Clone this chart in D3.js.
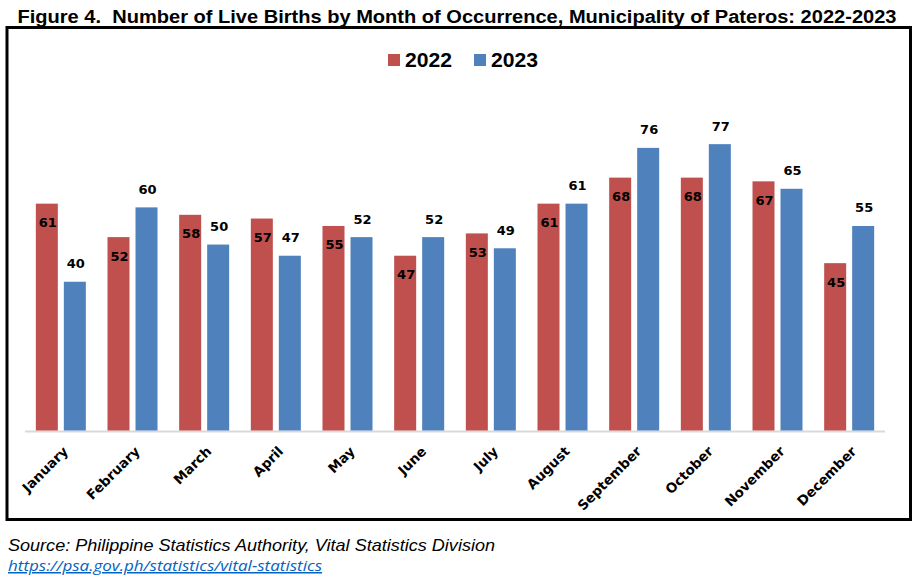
<!DOCTYPE html>
<html><head><meta charset="utf-8">
<script src="https://cdn.jsdelivr.net/npm/d3@7"></script>
<style>html,body{margin:0;padding:0;background:#fff;}svg{display:block;}</style>
</head><body>
<svg id="chart" width="918" height="581"></svg>
<script>
const months = ["January","February","March","April","May","June","July","August","September","October","November","December"];
const values2022 = [61,52,58,57,55,47,53,61,68,68,67,45];
const values2023 = [40,60,50,47,52,52,49,61,76,77,65,55];
const seriesNames = ["2022","2023"];
const colors = ["#C0504D","#4F81BD"];

const svg = d3.select("#chart");
svg.append("rect").attr("width",918).attr("height",581).attr("fill","#fff");

// Title
svg.append("text").attr("x",457).attr("y",23).attr("text-anchor","middle")
  .style("white-space","pre")
  .attr("font-family","Liberation Sans, Arial, sans-serif").attr("font-weight","bold").attr("font-size",18)
  .attr("textLength",879).attr("lengthAdjust","spacingAndGlyphs")
  .text("Figure 4.  Number of Live Births by Month of Occurrence, Municipality of Pateros: 2022-2023");

// Frame
svg.append("rect").attr("x",7).attr("y",27.5).attr("width",903.5).attr("height",492)
  .attr("fill","none").attr("stroke","#000").attr("stroke-width",3);

// Legend
const legend = svg.append("g");
const legX = [388, 474];
seriesNames.forEach((s,i)=>{
  legend.append("rect").attr("x",legX[i]).attr("y",54).attr("width",12).attr("height",12).attr("fill",colors[i]);
  legend.append("text").attr("x",legX[i]+17).attr("y",67)
    .attr("font-family","Liberation Sans, Arial, sans-serif").attr("font-weight","bold").attr("font-size",20)
    .attr("textLength",47).attr("lengthAdjust","spacingAndGlyphs")
    .text(s);
});

// Scales
const x0 = d3.scaleBand().domain(months).range([25,885]).paddingInner(0).paddingOuter(0);
const barW = 22, gap = 6;
const y = d3.scaleLinear().domain([0,80]).range([430.5,133]);

// Axis line
svg.append("line").attr("x1",25).attr("x2",885).attr("y1",431.5).attr("y2",431.5)
  .attr("stroke","#D9D9D9").attr("stroke-width",2);

const data = months.map((m,i)=>({m, v:[values2022[i], values2023[i]]}));
const groups = svg.append("g").selectAll("g").data(data).join("g");
groups.each(function(d){
  const g = d3.select(this);
  const cx = x0(d.m) + x0.bandwidth()/2;
  d.v.forEach((v,i)=>{
    const bx = i===0 ? cx - gap/2 - barW : cx + gap/2;
    g.append("rect").attr("x",bx).attr("y",y(v)).attr("width",barW).attr("height",y(0)-y(v)).attr("fill",colors[i]);
    g.append("text").attr("x",bx+barW/2+1).attr("y", i===0 ? y(v)+23.5 : y(v)-13.5)
      .attr("text-anchor","middle")
      .attr("font-family","DejaVu Sans, Verdana, sans-serif").attr("font-weight","bold").attr("font-size",13)
      .attr("fill","#000").text(v);
  });
});

// X labels
svg.append("g").selectAll("text").data(months).join("text")
  .attr("transform", d=>`translate(${x0(d)+x0.bandwidth()/2+1},445) rotate(-45)`)
  .attr("text-anchor","end").attr("dy","0.75em")
  .attr("font-family","DejaVu Sans, Verdana, sans-serif").attr("font-weight","bold").attr("font-size",13.5)
  .attr("fill","#000").text(d=>d);

// Footer
svg.append("text").attr("x",8).attr("y",551)
  .attr("font-family","Liberation Sans, Arial, sans-serif").attr("font-style","italic").attr("font-size",17)
  .attr("textLength",487).attr("lengthAdjust","spacingAndGlyphs")
  .text("Source: Philippine Statistics Authority, Vital Statistics Division");
svg.append("text").attr("x",8).attr("y",571)
  .attr("font-family","Open Sans, Liberation Sans, sans-serif").attr("font-style","italic").attr("font-size",15)
  .attr("fill","#0563C1").attr("text-decoration","underline")
  .attr("textLength",314).attr("lengthAdjust","spacingAndGlyphs")
  .text("https://psa.gov.ph/statistics/vital-statistics");
</script>
</body></html>
